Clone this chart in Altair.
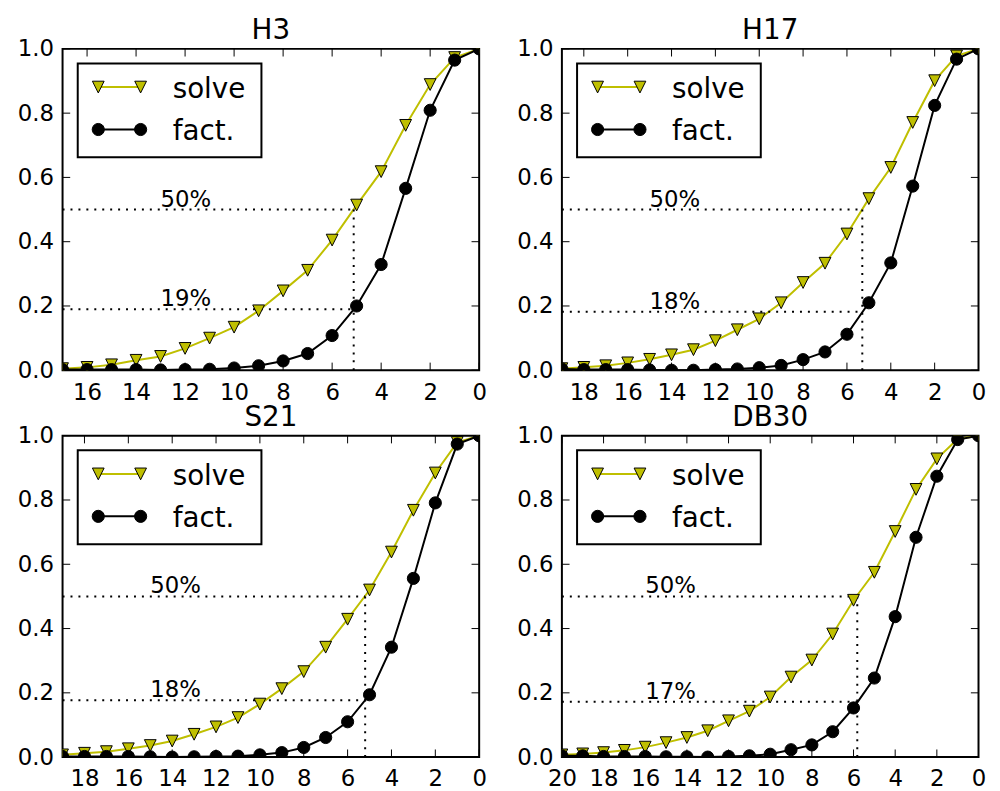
import altair as alt
import pandas as pd

# ---------------- data ----------------
titles = ["H3", "H17", "S21", "DB30"]

H3_x = [17, 16, 15, 14, 13, 12, 11, 10, 9, 8, 7, 6, 5, 4, 3, 2, 1, 0]
H3_solve = [0.005, 0.009, 0.017, 0.031, 0.043, 0.068, 0.100, 0.134, 0.185, 0.247,
            0.311, 0.405, 0.514, 0.618, 0.762, 0.889, 0.973, 1.0]
H3_fact = [0.002, 0.002, 0.002, 0.002, 0.001, 0.002, 0.003, 0.007, 0.014, 0.029,
           0.052, 0.108, 0.200, 0.329, 0.566, 0.809, 0.965, 1.0]

H17_x = [19, 18, 17, 16, 15, 14, 13, 12, 11, 10, 9, 8, 7, 6, 5, 4, 3, 2, 1, 0]
H17_solve = [0.005, 0.009, 0.014, 0.023, 0.034, 0.048, 0.064, 0.092, 0.126, 0.160,
             0.210, 0.273, 0.333, 0.424, 0.534, 0.631, 0.771, 0.901, 0.978, 1.0]
H17_fact = [0.004, 0.002, 0.002, 0.002, 0.001, 0.0, 0.0, 0.002, 0.004, 0.008,
            0.015, 0.033, 0.057, 0.112, 0.210, 0.334, 0.573, 0.824, 0.968, 1.0]

S21_x = [19, 18, 17, 16, 15, 14, 13, 12, 11, 10, 9, 8, 7, 6, 5, 4, 3, 2, 1, 0]
S21_solve = [0.007, 0.012, 0.017, 0.026, 0.036, 0.050, 0.071, 0.094, 0.123, 0.165,
             0.213, 0.266, 0.342, 0.429, 0.520, 0.638, 0.768, 0.884, 0.979, 1.0]
S21_fact = [0.002, 0.002, 0.002, 0.002, 0.001, 0.0, 0.001, 0.002, 0.003, 0.007,
            0.014, 0.030, 0.061, 0.110, 0.194, 0.342, 0.556, 0.791, 0.974, 1.0]

DB30_x = [20, 19, 18, 17, 16, 15, 14, 13, 12, 11, 10, 9, 8, 7, 6, 5, 4, 3, 2, 1, 0]
DB30_solve = [0.007, 0.010, 0.014, 0.021, 0.031, 0.045, 0.061, 0.082, 0.113, 0.143,
              0.187, 0.249, 0.302, 0.383, 0.488, 0.575, 0.702, 0.833, 0.928, 0.990, 1.0]
DB30_fact = [0.004, 0.004, 0.002, 0.002, 0.002, 0.001, 0.001, 0.0, 0.002, 0.004,
             0.009, 0.023, 0.038, 0.079, 0.153, 0.246, 0.437, 0.684, 0.874, 0.988, 1.0]

x_max = [17, 19, 19, 20]                 # left end of each reversed x axis
x_ticks = [[16, 14, 12, 10, 8, 6, 4, 2, 0],
           [18, 16, 14, 12, 10, 8, 6, 4, 2, 0],
           [18, 16, 14, 12, 10, 8, 6, 4, 2, 0],
           [20, 18, 16, 14, 12, 10, 8, 6, 4, 2, 0]]
y_ticks = [0.0, 0.2, 0.4, 0.6, 0.8, 1.0]
cross_x = [5.12, 5.30, 5.20, 5.82]        # where "solve" reaches 50%
cross_y = [0.19, 0.182, 0.177, 0.172]     # "fact." at that point
half_level = 0.5
half_label = "50%"
cross_labels = ["19%", "18%", "18%", "17%"]
label_x = [13, 15, 15, 16]
series_names = ["solve", "fact."]

xs_all = [H3_x, H17_x, S21_x, DB30_x]
solve_all = [H3_solve, H17_solve, S21_solve, DB30_solve]
fact_all = [H3_fact, H17_fact, S21_fact, DB30_fact]

# ---------------- styling ----------------
FONT = "DejaVu Sans"
YEL = "#bfbf00"
W, H = 420, 324
TICK = 7.7
TRI = "M-1,-1L1,-1L0,1Z"


def panel(i):
    xs, sv, fv = xs_all[i], solve_all[i], fact_all[i]
    dmax = x_max[i]
    xscale = alt.Scale(domain=[dmax, 0], nice=False, zero=False)
    yscale = alt.Scale(domain=[0, 1], nice=False, zero=False)

    d_solve = pd.DataFrame({"x": xs, "v": sv})
    d_fact = pd.DataFrame({"x": xs, "v": fv})

    x_axis = alt.Axis(orient="bottom", values=x_ticks[i], labelFontSize=23,
                      labelFont=FONT, labelColor="black", labelPadding=11,
                      format="d", domain=False, ticks=False, grid=False, title=None,
                      labelFlush=False, labelOverlap=False)
    y_axis = alt.Axis(orient="left", values=y_ticks, labelFontSize=23,
                      labelFont=FONT, labelColor="black", labelPadding=9,
                      format=".1f", domain=False, ticks=False, grid=False, title=None,
                      labelFlush=False, labelOverlap=False)

    def X(axis=alt.Undefined):
        return alt.X("x:Q", scale=xscale, axis=axis, title=None)

    def Y(axis=alt.Undefined):
        return alt.Y("v:Q", scale=yscale, axis=axis, title=None)

    # inward tick marks on all four sides
    xt = pd.DataFrame({"x": x_ticks[i]})
    yt = pd.DataFrame({"v": y_ticks})
    tick_b = alt.Chart(xt).mark_rule(color="black", strokeWidth=1).encode(
        x=X(), y=alt.value(H), y2=alt.value(H - TICK))
    tick_t = alt.Chart(xt).mark_rule(color="black", strokeWidth=1).encode(
        x=X(), y=alt.value(0), y2=alt.value(TICK))
    tick_l = alt.Chart(yt).mark_rule(color="black", strokeWidth=1).encode(
        y=Y(), x=alt.value(0), x2=alt.value(TICK))
    tick_r = alt.Chart(yt).mark_rule(color="black", strokeWidth=1).encode(
        y=Y(), x=alt.value(W), x2=alt.value(W - TICK))

    solve_line = alt.Chart(d_solve).mark_line(color=YEL, strokeWidth=2, clip=True).encode(
        x=X(x_axis), y=Y(y_axis))
    solve_pts = alt.Chart(d_solve).mark_point(
        shape=TRI, filled=True, fill=YEL, stroke="black", strokeWidth=1,
        size=140, opacity=1, clip=True).encode(x=X(), y=Y())
    fact_line = alt.Chart(d_fact).mark_line(color="black", strokeWidth=2, clip=True).encode(
        x=X(), y=Y())
    fact_pts = alt.Chart(d_fact).mark_point(
        shape="circle", filled=True, fill="black", stroke="black", strokeWidth=1,
        size=150, opacity=1, clip=True).encode(x=X(), y=Y())

    segs = pd.DataFrame({
        "x": [dmax, dmax, cross_x[i]],
        "x2": [cross_x[i], cross_x[i], cross_x[i]],
        "v": [half_level, cross_y[i], 0.0],
        "v2": [half_level, cross_y[i], half_level],
    })
    dotted = alt.Chart(segs).mark_rule(color="black", strokeWidth=2,
                                       strokeDash=[2, 6], clip=True).encode(
        x=X(), x2="x2:Q", y=Y(), y2="v2:Q")

    labs = pd.DataFrame({"x": [label_x[i], label_x[i]],
                         "v": [half_level, cross_y[i]],
                         "t": [half_label, cross_labels[i]]})
    texts = alt.Chart(labs).mark_text(align="left", baseline="alphabetic", dy=-3,
                                      fontSize=23, font=FONT, color="black").encode(
        x=X(), y=Y(), text="t:N")

    one = pd.DataFrame({"k": [0]})
    # panel title
    ttl = alt.Chart(one).mark_text(text=titles[i], align="center", baseline="alphabetic",
                                   fontSize=28, font=FONT, color="black").encode(
        x=alt.value(W / 2), y=alt.value(-9.7))

    # legend (matplotlib style: line with a marker at each end)
    leg_box = alt.Chart(one).mark_rect(fill="white", stroke="black", strokeWidth=2).encode(
        x=alt.value(15.3), x2=alt.value(200.5), y=alt.value(14.7), y2=alt.value(109.3))
    leg_l1 = alt.Chart(one).mark_rule(color=YEL, strokeWidth=2).encode(
        x=alt.value(36), x2=alt.value(78.7), y=alt.value(38.5))
    leg_l2 = alt.Chart(one).mark_rule(color="black", strokeWidth=2).encode(
        x=alt.value(36), x2=alt.value(78.7), y=alt.value(81.3))
    tri_a = alt.Chart(one).mark_point(shape=TRI, filled=True, fill=YEL, stroke="black",
                                      strokeWidth=1, size=140, opacity=1).encode(
        x=alt.value(36), y=alt.value(38.5))
    tri_b = alt.Chart(one).mark_point(shape=TRI, filled=True, fill=YEL, stroke="black",
                                      strokeWidth=1, size=140, opacity=1).encode(
        x=alt.value(78.7), y=alt.value(38.5))
    cir_a = alt.Chart(one).mark_point(shape="circle", filled=True, fill="black",
                                      stroke="black", strokeWidth=1, size=150,
                                      opacity=1).encode(x=alt.value(36), y=alt.value(81.3))
    cir_b = alt.Chart(one).mark_point(shape="circle", filled=True, fill="black",
                                      stroke="black", strokeWidth=1, size=150,
                                      opacity=1).encode(x=alt.value(78.7), y=alt.value(81.3))
    leg_t1 = alt.Chart(one).mark_text(text=series_names[0], align="left",
                                      baseline="alphabetic", fontSize=28, font=FONT,
                                      color="black").encode(x=alt.value(111), y=alt.value(49.3))
    leg_t2 = alt.Chart(one).mark_text(text=series_names[1], align="left",
                                      baseline="alphabetic", fontSize=28, font=FONT,
                                      color="black").encode(x=alt.value(111), y=alt.value(92))

    ch = alt.layer(
        solve_line, tick_b, tick_t, tick_l, tick_r, dotted, solve_pts,
        fact_line, fact_pts, texts, ttl,
        leg_box, leg_l1, leg_l2, tri_a, tri_b, cir_a, cir_b, leg_t1, leg_t2,
    ).properties(width=W, height=H)
    return ch


chart = alt.concat(
    panel(0), panel(1), panel(2), panel(3),
    columns=2, spacing={"row": 66, "column": 83.4}, bounds="flush",
).properties(
    padding={"left": 8, "top": 5, "right": 5, "bottom": 0},
).configure(
    font=FONT,
    view=alt.ViewConfig(stroke="black", strokeWidth=2),
)

chart.save("out.html", embed_options={"renderer": "svg", "actions": False})
